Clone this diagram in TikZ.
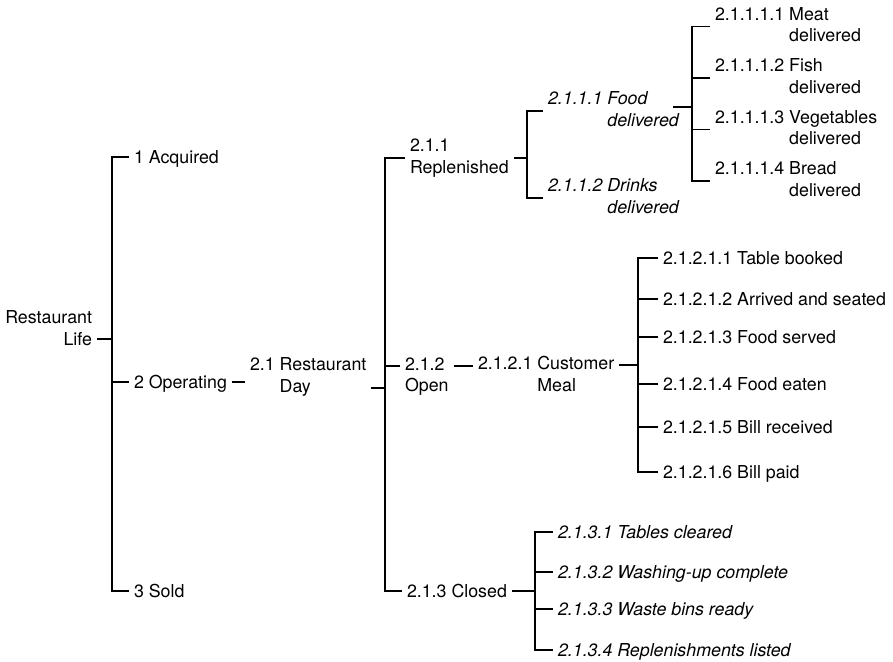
\documentclass[tikz,border=0pt]{standalone}
\usepackage{fontspec}
\setmainfont{TeX Gyre Heros}
\usetikzlibrary{calc}
\newcommand{\hangtext}[3]{\begin{tabular}{@{}l@{\ }l@{}}#1&#2\\&#3\end{tabular}}
\begin{document}
\begin{tikzpicture}[x=1pt,y=-1pt,
  every node/.style={font=\fontsize{17.8}{21.5}\selectfont, inner xsep=5pt, inner ysep=0pt, outer sep=0pt},
  one/.style={anchor=west, text height=12.8pt, text depth=0pt},
  two/.style={anchor=west},
  itone/.style={one, font=\fontsize{17.8}{21.5}\selectfont\itshape},
  ittwo/.style={two, font=\fontsize{17.8}{21.5}\selectfont\itshape},
  conn/.style={line width=1.8pt, line join=miter}]
\useasboundingbox (0,0) rectangle (893,661);

% level 0 and 1
\node[anchor=east, align=right] (rl) at (97,328) {Restaurant\\Life};
\node[one] (acq) at (129,157) {1 Acquired};
\node[one] (oper) at (129,382) {2 Operating};
\node[one] (sold) at (129,591) {3 Sold};

% level 2
\node[two] (rday) at (245,377) {\hangtext{2.1}{Restaurant}{Day}};

% level 3
\node[two, align=left] (rep) at (405,158) {2.1.1\\Replenished};
\node[two, align=left] (open) at (400,376.5) {2.1.2\\Open};
\node[one] (closed) at (402,591) {2.1.3 Closed};

% level 4
\node[ittwo] (food) at (543,111) {\hangtext{2.1.1.1}{Food}{delivered}};
\node[ittwo] (drinks) at (543,198) {\hangtext{2.1.1.2}{Drinks}{delivered}};
\node[two] (cm) at (473,376) {\hangtext{2.1.2.1}{Customer}{Meal}};
\node[itone] (k1) at (553,532) {2.1.3.1 Tables cleared};
\node[itone] (k2) at (553,572) {2.1.3.2 Washing-up complete};
\node[itone] (k3) at (553,609) {2.1.3.3 Waste bins ready};
\node[itone] (k4) at (553,650) {2.1.3.4 Replenishments listed};

% level 5
\node[two] (m1) at (710,26.5) {\hangtext{2.1.1.1.1}{Meat}{delivered}};
\node[two] (m2) at (710,78) {\hangtext{2.1.1.1.2}{Fish}{delivered}};
\node[two] (m3) at (710,129.5) {\hangtext{2.1.1.1.3}{Vegetables}{delivered}};
\node[two] (m4) at (710,181) {\hangtext{2.1.1.1.4}{Bread}{delivered}};
\node[one] (t1) at (658,258) {2.1.2.1.1 Table booked};
\node[one] (t2) at (658,299) {2.1.2.1.2 Arrived and seated};
\node[one] (t3) at (658,337) {2.1.2.1.3 Food served};
\node[one] (t4) at (658,384) {2.1.2.1.4 Food eaten};
\node[one] (t5) at (658,427) {2.1.2.1.5 Bill received};
\node[one] (t6) at (658,472) {2.1.2.1.6 Bill paid};

% bar coordinates
\coordinate (b0) at (112,339);
\coordinate (b1) at (385,388);
\coordinate (b2) at (638,365);
\coordinate (b3) at (527,158);
\coordinate (b4) at (692,107);
\coordinate (b5) at (535,591);

% connectors level 0
\draw[conn] ($(rl.east)+(0,10.75)$) coordinate (r0) -- (r0 -| b0);
\draw[conn] (acq.west) -| (b0) |- (sold.west);
\draw[conn] (b0) |- (oper.west);
\draw[conn] (oper.east) -- (oper.east -| rday.west);

% connectors level 2
\draw[conn] ($(rday.east)+(0,10.75)$) coordinate (r1) -- (r1 -| b1);
\draw[conn] (rep.west) -| (b1) |- (closed.west);
\draw[conn] ($(open.west)+(0,-10.75)$) coordinate (o0) -- (o0 -| b1);

% open -> customer meal
\draw[conn] ($(open.east)+(0,-10.75)$) coordinate (o1) -- (o1 -| cm.west);
\draw[conn] ($(cm.east)+(0,-10.75)$) coordinate (c1) -- (c1 -| b2);
\draw[conn] (t1.west) -| (b2) |- (t6.west);
\foreach \n in {t2,t3,t4,t5} \draw[conn] (\n.west) -- (\n.west -| b2);

% replenished
\draw[conn] (rep.east) -- (rep.east -| b3);
\draw[conn] (food.west) -| (b3) |- (drinks.west);

% food delivered
\draw[conn] ($(food.east)+(-11,-4)$) coordinate (f1) -- (f1 -| b4);
\draw[conn] (m1.west) -| (b4) |- (m4.west);
\foreach \n in {m2,m3} \draw[conn] (\n.west) -- (\n.west -| b4);

% closed
\draw[conn] (closed.east) -- (closed.east -| b5);
\draw[conn] (k1.west) -| (b5) |- (k4.west);
\foreach \n in {k2,k3} \draw[conn] (\n.west) -- (\n.west -| b5);
\end{tikzpicture}
\end{document}
